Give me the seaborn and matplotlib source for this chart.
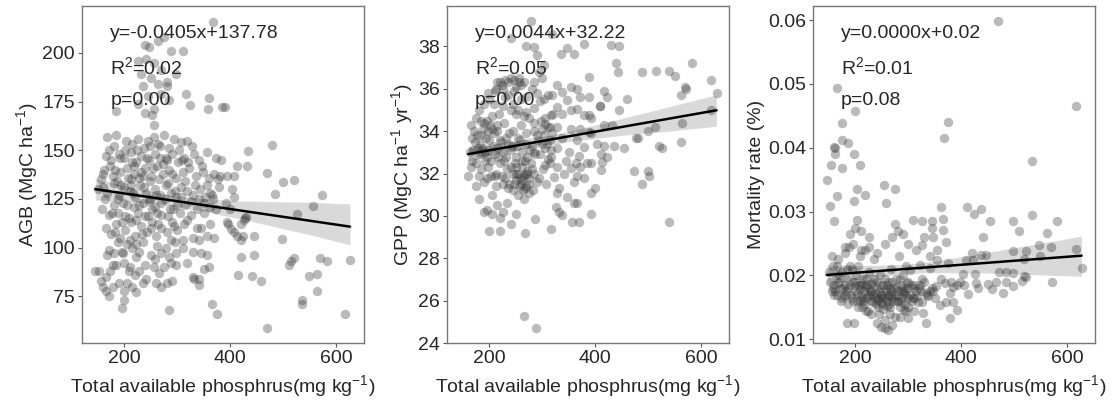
import numpy as np
import pandas as pd
import matplotlib
matplotlib.use("Agg")
import matplotlib.pyplot as plt
import seaborn as sns

# panel 1: AGB vs total available phosphorus
agb_pts = [
    (367, 216), (238, 204), (247, 203), (263, 206), (275, 208), (288, 201), (310, 201),
    (225, 196), (241, 197), (256, 195), (269, 191), (297, 189), (231, 189), (250, 187),
    (281, 185), (235, 183), (263, 184), (281, 183), (244, 178), (269, 179), (285, 176),
    (225, 174), (256, 171), (316, 179), (324, 173), (360, 177), (357, 171), (385, 172),
    (389, 172), (184, 170), (238, 169), (253, 168), (256, 163),
    (167, 157), (184, 158), (203, 155), (225, 156), (244, 155), (256, 157), (275, 158),
    (294, 156), (307, 154), (319, 155), (180, 152), (215, 153), (237, 151), (264, 153),
    (284, 151), (327, 152),
    (165, 147), (175, 145), (190, 148), (200, 146), (212, 149), (222, 144), (232, 147),
    (247, 145), (258, 148), (268, 146), (280, 145), (290, 148), (302, 144), (313, 146),
    (332, 148), (340, 145), (355, 149), (372, 146),
    (162, 140), (172, 142), (178, 137), (192, 139), (205, 141), (218, 138), (228, 136),
    (238, 141), (250, 137), (262, 142), (272, 138), (285, 140), (298, 136), (310, 139),
    (322, 141), (335, 137), (348, 139), (360, 136), (370, 138), (380, 137), (382, 145),
    (150, 130), (160, 131), (168, 128), (180, 133), (190, 127), (200, 131), (210, 129),
    (220, 126), (230, 132), (240, 128), (248, 125), (258, 130), (268, 127), (278, 132),
    (288, 128), (298, 126), (306, 131), (318, 129), (330, 127), (342, 130), (352, 126),
    (362, 128), (368, 125), (378, 131),
    (158, 120), (170, 117), (180, 122), (188, 118), (198, 123), (208, 115), (218, 121),
    (225, 118), (235, 123), (245, 116), (252, 120), (262, 118), (270, 123), (282, 116),
    (292, 120), (305, 118), (315, 122), (325, 117), (338, 120), (350, 123), (362, 121),
    (165, 110), (175, 107), (185, 112), (192, 105), (202, 109), (212, 113), (220, 106),
    (232, 111), (242, 108), (252, 113), (260, 106), (270, 110), (280, 108), (290, 113),
    (300, 109), (312, 112), (330, 105), (345, 110), (355, 106), (370, 105),
    (170, 99), (180, 97), (195, 98), (205, 102), (215, 100), (222, 95), (235, 103),
    (250, 96), (262, 101), (270, 97), (285, 95), (295, 103), (310, 100), (340, 104),
    (355, 96),
    (145, 88), (152, 88), (165, 85), (172, 88), (185, 91), (200, 92), (210, 90),
    (220, 86), (228, 88), (240, 84), (255, 90), (265, 87), (275, 90), (288, 92),
    (298, 91), (330, 85), (340, 84), (350, 89), (360, 90),
    (155, 83), (160, 80), (165, 78), (170, 75), (178, 80), (190, 82), (200, 78),
    (205, 82), (215, 80), (222, 77), (235, 82), (260, 82), (270, 80), (280, 82),
    (290, 83), (332, 84), (340, 81),
    (195, 69), (200, 73), (285, 68), (365, 71), (375, 66),
    (155, 135), (163, 125), (171, 150), (176, 118), (183, 140), (187, 103), (193, 132),
    (196, 113), (201, 150), (204, 122), (207, 136), (211, 104), (214, 144), (217, 128),
    (221, 114), (224, 150), (227, 122), (231, 139), (234, 107), (237, 131), (239, 116),
    (243, 146), (246, 124), (249, 134), (251, 110), (254, 141), (257, 121), (259, 127),
    (263, 112), (266, 135), (269, 117), (273, 143), (276, 125), (279, 100), (283, 133),
    (286, 120), (289, 138), (293, 111), (296, 129), (299, 122), (303, 150), (307, 126),
    (311, 104), (314, 134), (318, 114), (321, 144), (326, 124), (329, 98), (333, 132),
    (337, 110), (341, 125), (346, 142), (351, 118), (356, 132), (361, 112), (366, 127),
    (372, 120), (377, 135), (168, 96), (178, 91), (188, 125), (198, 97), (208, 88),
    (218, 142), (228, 98), (238, 91), (248, 152), (258, 94), (268, 152), (278, 146),
    (288, 104), (298, 97), (308, 145), (318, 92), (345, 97), (182, 108), (192, 146),
    (202, 116), (212, 132), (222, 102),
    (433, 149.5), (479, 152.9), (413, 141.8), (432, 141.8), (394, 137), (407, 136.7),
    (470, 138.4), (485, 127.7), (500, 133.7), (520, 134.5), (573, 126.9), (557, 121.4),
    (525, 117.5), (429, 115.5), (426, 114), (394, 113), (401, 109.5), (407, 107.8),
    (423, 106), (445, 106), (498, 104.4), (414, 86), (441, 85.4), (457, 83), (420, 95),
    (445, 96.3), (511, 91), (514, 93.3), (520, 94.6), (569, 94.7), (582, 93.4),
    (626, 93.6), (548, 85.7), (564, 86.6), (564, 77.7), (535, 73.3), (535, 71),
    (617, 66), (470, 58.8), (406, 126), (404, 130), (392, 123), (400, 120), (396, 112),
    (413, 106), (421, 104), (428, 115), (421, 112),
    (160, 138), (186, 134), (213, 135), (236, 137),
]

# panel 2: GPP
gpp_pts = [
    (278, 39.2), (240, 38.4), (270, 38.0), (284, 37.95), (319, 38.6), (336, 37.65),
    (347, 37.9), (360, 37.65), (379, 38.1), (429, 38.05), (445, 38.0), (290, 37.6),
    (303, 37.1), (294, 36.8), (439, 37.2), (442, 36.8), (388, 36.55), (489, 36.8),
    (514, 36.85), (540, 36.85), (551, 36.6), (582, 37.2), (618, 36.4), (629, 35.8),
    (569, 36.1), (571, 36.0), (562, 35.7), (513, 34.2), (520, 33.3), (526, 33.2),
    (499, 34.0), (477, 33.7), (480, 33.7), (474, 32.1), (499, 32.1), (501, 31.9),
    (489, 31.5), (540, 29.7), (562, 33.5), (618, 35.0), (564, 34.4),
    (417, 35.9), (423, 35.6), (408, 35.2), (409, 35.2), (445, 35.0), (459, 35.5),
    (388, 34.75), (391, 34.6), (431, 34.3), (417, 34.3), (391, 33.9), (404, 33.4),
    (417, 33.3), (435, 33.3), (455, 33.2), (410, 32.9), (423, 32.8), (413, 32.55),
    (410, 32.15), (391, 32.5), (391, 31.1), (400, 31.3), (391, 30.1),
    (328, 36.2), (354, 36.1), (366, 36.0), (338, 35.85), (319, 35.7), (303, 35.5),
    (347, 35.45), (372, 35.6), (388, 35.6), (328, 35.15), (354, 35.0), (366, 35.05),
    (379, 34.75), (338, 34.8), (316, 34.75), (306, 34.35), (328, 34.2), (354, 34.1),
    (372, 34.1), (388, 33.95), (319, 33.9), (338, 33.7), (366, 33.6), (379, 33.25),
    (309, 33.4), (328, 33.2), (351, 33.0), (369, 32.85), (316, 32.8), (344, 32.6),
    (363, 32.5), (385, 32.5), (306, 32.4), (328, 32.3), (354, 32.25), (372, 32.3),
    (366, 31.9), (322, 31.85), (341, 32.0), (360, 31.6), (379, 31.8), (331, 31.3),
    (328, 31.1), (347, 30.9), (360, 30.6), (366, 30.6), (325, 30.4), (331, 30.2),
    (338, 30.05), (357, 29.7), (369, 29.7), (316, 29.4), (287, 29.85), (268, 29.2),
    (265, 25.3), (288, 24.7),
    (165, 34.3), (170, 33.1), (175, 32.5), (180, 31.9), (172, 33.5), (185, 33.8),
    (190, 34.4), (195, 32.8), (200, 33.6), (205, 34.1), (210, 32.9), (215, 33.2),
    (185, 32.2), (190, 31.6), (178, 33.2), (183, 33.4), (188, 34.1), (198, 34.0),
    (203, 31.9), (208, 33.9), (213, 31.4), (220, 32.5), (225, 33.0), (230, 31.8),
    (235, 33.4), (240, 32.3), (245, 34.0), (250, 31.7), (255, 32.0), (260, 31.5),
    (262, 32.3), (265, 31.9), (268, 32.6), (270, 31.4), (272, 32.1), (275, 31.8),
    (278, 32.5), (280, 33.3), (285, 32.0), (290, 31.6), (295, 32.9), (300, 33.4),
    (245, 31.2), (255, 31.0), (265, 30.8), (275, 31.1), (283, 31.2), (250, 32.8),
    (258, 33.6), (238, 33.9), (228, 34.4), (218, 34.8), (208, 35.3), (198, 35.8),
    (210, 35.9), (220, 36.3), (230, 36.4), (240, 36.5), (250, 36.1), (260, 36.2),
    (235, 35.7), (245, 35.3), (255, 35.0), (265, 34.7), (275, 34.6), (285, 35.1),
    (295, 35.4), (270, 35.6), (280, 36.0), (290, 35.8), (300, 36.5), (305, 34.6),
    (310, 35.7), (315, 34.2), (225, 35.2), (215, 34.3), (205, 34.7), (195, 34.5),
    (260, 34.3), (270, 33.9), (285, 34.4), (290, 33.8), (300, 34.1), (305, 33.2),
    (310, 32.7), (315, 33.6), (195, 31.8), (205, 31.0), (215, 30.5), (225, 30.2),
    (233, 30.6), (205, 30.1), (195, 30.3), (220, 29.9), (240, 29.6), (200, 29.3),
    (220, 29.3), (250, 30.1), (160, 31.9), (165, 32.3), (168, 33.7), (175, 34.6),
    (180, 30.8), (190, 30.2), (185, 33.0), (192, 32.6), (197, 33.1), (225, 31.5),
    (235, 31.3), (248, 32.5), (252, 33.3), (262, 33.0), (232, 32.8), (242, 33.3),
    (212, 32.0), (222, 33.5), (270, 33.4), (215, 36.3), (224, 36.2), (246, 36.4),
    (256, 36.3), (265, 36.3), (284, 36.3),
    (163, 33.0), (167, 32.6), (171, 34.0), (174, 31.4), (177, 33.8), (181, 32.9),
    (184, 34.5), (187, 33.2), (191, 33.0), (194, 33.7), (197, 32.3), (201, 34.3),
    (204, 32.6), (207, 33.3), (211, 31.9), (214, 34.0), (217, 32.8), (221, 33.6),
    (224, 31.9), (227, 32.6), (231, 33.7), (234, 32.2), (237, 31.5), (241, 33.1),
    (244, 32.0), (247, 31.5), (251, 32.3), (254, 33.7), (257, 31.4), (261, 32.6),
    (264, 31.2), (267, 32.0), (271, 32.8), (274, 31.5), (277, 33.1), (281, 32.2),
    (284, 34.0), (287, 32.9), (291, 33.6), (294, 31.8), (297, 34.5), (301, 32.2),
    (304, 33.8), (307, 31.5), (311, 34.2), (314, 32.5), (317, 33.1), (321, 34.8),
    (250, 34.8), (240, 35.0), (230, 35.6), (260, 35.5), (270, 34.9), (190, 35.3),
    (200, 35.5), (180, 35.0), (212, 36.0), (226, 36.0), (236, 36.3), (246, 35.9),
    (256, 36.5), (285, 33.0), (262, 31.7), (268, 31.3), (258, 31.8), (250, 32.0),
    (272, 32.0),
]

# panel 3: mortality rate
mort_pts = [
    (469, 0.0598), (166, 0.0493), (200, 0.0458), (616, 0.0465), (175, 0.0439),
    (374, 0.0441), (367, 0.0415), (159, 0.0402), (162, 0.0399), (161, 0.0390),
    (175, 0.0412), (186, 0.0408), (197, 0.0391), (154, 0.0373), (175, 0.0368),
    (209, 0.0373), (146, 0.0350), (153, 0.0309), (166, 0.0324), (203, 0.0336),
    (197, 0.0317), (219, 0.0326), (254, 0.0341), (257, 0.0313), (275, 0.0336),
    (159, 0.0286), (203, 0.0287), (200, 0.0274), (534, 0.0379), (534, 0.0295),
    (361, 0.0308), (365, 0.0289), (411, 0.0308), (437, 0.0304), (424, 0.0296),
    (454, 0.0286), (497, 0.0286), (581, 0.0286), (509, 0.0270), (561, 0.0266),
    (441, 0.0260), (569, 0.0244), (547, 0.0247), (616, 0.0242), (522, 0.0239),
    (497, 0.0239), (421, 0.0235), (437, 0.0232),
    (519, 0.0225), (549, 0.0230), (472, 0.0206), (484, 0.0206), (497, 0.0204),
    (519, 0.0199), (522, 0.0198), (627, 0.0212), (571, 0.0190), (484, 0.0189),
    (497, 0.0183), (478, 0.0172), (450, 0.0187), (428, 0.0188), (412, 0.0171),
    (425, 0.0203), (403, 0.0202), (409, 0.0224), (422, 0.0224), (447, 0.0232),
    (391, 0.0185), (384, 0.0182), (397, 0.0190), (391, 0.0146), (378, 0.0134),
    (384, 0.0159), (334, 0.0126),
    (405, 0.0185), (432, 0.0180), (466, 0.0190), (458, 0.0178), (515, 0.0192),
    (309, 0.0287), (325, 0.0286), (344, 0.0285), (366, 0.0271), (325, 0.0248),
    (347, 0.0260), (355, 0.0240), (372, 0.0253), (341, 0.0230), (355, 0.0224),
    (375, 0.0219), (322, 0.0216), (303, 0.0209), (341, 0.0211), (362, 0.0194),
    (353, 0.0183), (369, 0.0188), (322, 0.0185), (334, 0.0172), (347, 0.0175),
    (325, 0.0159), (309, 0.0164), (359, 0.0154), (372, 0.0159), (328, 0.0141),
    (300, 0.0133), (291, 0.0146), (309, 0.0180), (378, 0.0172), (381, 0.0190),
    (150, 0.0205), (153, 0.0190), (156, 0.0175), (158, 0.0215), (160, 0.0185),
    (163, 0.0200), (165, 0.0170), (168, 0.0225), (170, 0.0190), (172, 0.0160),
    (175, 0.0205), (177, 0.0180), (180, 0.0235), (182, 0.0175), (184, 0.0195),
    (186, 0.0155), (188, 0.0245), (190, 0.0185), (192, 0.0170), (194, 0.0210),
    (196, 0.0190), (198, 0.0125), (200, 0.0175),
    (202, 0.0200), (204, 0.0160), (206, 0.0185), (208, 0.0230), (210, 0.0170),
    (212, 0.0150), (214, 0.0195), (216, 0.0175), (218, 0.0240), (220, 0.0165),
    (222, 0.0185), (224, 0.0145), (226, 0.0205), (228, 0.0175), (230, 0.0160),
    (232, 0.0190), (234, 0.0170), (236, 0.0225), (238, 0.0155), (240, 0.0180),
    (242, 0.0165), (244, 0.0140), (246, 0.0200), (248, 0.0170), (250, 0.0155),
    (252, 0.0185), (254, 0.0165), (256, 0.0130), (258, 0.0175), (260, 0.0160),
    (262, 0.0190), (264, 0.0170), (266, 0.0150), (268, 0.0210), (270, 0.0165),
    (272, 0.0180), (274, 0.0135), (276, 0.0195), (278, 0.0160), (280, 0.0175),
    (282, 0.0230), (284, 0.0150), (286, 0.0185), (288, 0.0165), (290, 0.0200),
    (292, 0.0175), (294, 0.0155), (296, 0.0215), (298, 0.0180), (300, 0.0165),
    (155, 0.0230), (165, 0.0215), (175, 0.0165), (185, 0.0210), (195, 0.0160),
    (205, 0.0215), (215, 0.0160), (225, 0.0180), (235, 0.0195), (245, 0.0175),
    (255, 0.0195), (265, 0.0180), (275, 0.0170), (285, 0.0195), (295, 0.0170),
    (305, 0.0185), (315, 0.0175), (325, 0.0195), (335, 0.0170), (345, 0.0180),
    (160, 0.0170), (170, 0.0200), (180, 0.0185), (190, 0.0215), (200, 0.0190),
    (210, 0.0185), (220, 0.0195), (230, 0.0175), (240, 0.0190), (250, 0.0170),
    (260, 0.0185), (270, 0.0190), (280, 0.0160), (290, 0.0180), (300, 0.0190),
    (310, 0.0165), (320, 0.0180), (330, 0.0190), (340, 0.0175), (350, 0.0165),
    (180, 0.0245), (195, 0.0250), (210, 0.0240), (225, 0.0245), (240, 0.0235),
    (255, 0.0250), (270, 0.0260), (280, 0.0270), (290, 0.0265), (300, 0.0250),
    (315, 0.0240), (330, 0.0260), (345, 0.0275), (275, 0.0280), (210, 0.0270),
    (225, 0.0260), (190, 0.0265),
    (185, 0.0125), (230, 0.0140), (240, 0.0125), (248, 0.0120), (255, 0.0118),
    (262, 0.0115), (270, 0.0122), (285, 0.0135), (295, 0.0145), (220, 0.0145),
    (205, 0.0150), (265, 0.0140), (300, 0.0150), (310, 0.0145),
    (182, 0.0170), (187, 0.0180), (193, 0.0165), (199, 0.0185), (203, 0.0172),
    (209, 0.0178), (213, 0.0165), (219, 0.0182), (223, 0.0168), (229, 0.0186),
    (233, 0.0158), (239, 0.0172), (243, 0.0162), (247, 0.0185), (251, 0.0165),
    (257, 0.0178), (261, 0.0168), (263, 0.0155), (267, 0.0175), (271, 0.0160),
    (277, 0.0182), (281, 0.0168), (287, 0.0158), (291, 0.0172), (297, 0.0188),
    (303, 0.0170), (307, 0.0160), (313, 0.0185), (317, 0.0168), (323, 0.0175),
    (173, 0.0178), (167, 0.0188), (157, 0.0180), (213, 0.0188), (243, 0.0150),
    (253, 0.0148), (259, 0.0152), (237, 0.0165), (227, 0.0170), (217, 0.0155),
    (162, 0.0176), (178, 0.0168), (208, 0.0162), (248, 0.0158), (268, 0.0168),
    (288, 0.0175), (318, 0.0158), (338, 0.0168),
]

ylabels = [r"AGB (MgC ha$^{-1}$)", r"GPP (MgC ha$^{-1}$ yr$^{-1}$)", "Mortality rate (%)"]
eq_texts = ["y=-0.0405x+137.78", "y=0.0044x+32.22", "y=0.0000x+0.02"]
r2_texts = ["0.02", "0.05", "0.01"]
p_texts = ["0.00", "0.00", "0.08"]
ylims = [(51, 224), (24, 39.9), (0.0094, 0.0622)]
yticks = [np.arange(75, 201, 25), np.arange(24, 39, 2), np.arange(0.01, 0.061, 0.01)]
xlabel = r"Total available phosphrus(mg kg$^{-1}$)"

sns.set_style("ticks")
plt.rcParams['font.family'] = ['Liberation Sans', 'DejaVu Sans']
plt.rcParams['mathtext.fontset'] = 'custom'
plt.rcParams['mathtext.rm'] = 'Liberation Sans'
plt.rcParams['mathtext.it'] = 'Liberation Sans'

fig = plt.figure(figsize=(11.16, 4.07), dpi=100)
lefts = [0.0735, 0.4005, 0.7285]
panels = [agb_pts, gpp_pts, mort_pts]

for i, pts in enumerate(panels):
    ax = fig.add_axes([lefts[i], 0.157, 0.2525, 0.828])
    df = pd.DataFrame(pts, columns=["P", "y"])
    sns.regplot(data=df, x="P", y="y", ax=ax, color="black",
                scatter_kws=dict(s=46, alpha=0.35, color="#3a3a3a", linewidths=0),
                line_kws=dict(lw=1.8, color="black"))
    ax.set_xlim(120, 652)
    ax.set_ylim(*ylims[i])
    ax.set_xticks([200, 400, 600])
    ax.set_yticks(yticks[i])
    if i == 2:
        ax.set_yticklabels([f"{v:.2f}" for v in yticks[i]])
    ax.set_xlabel(xlabel, fontsize=14)
    ax.set_ylabel(ylabels[i], fontsize=14, labelpad=2)
    ax.tick_params(labelsize=14, length=3, width=0.8, color="#555555", pad=2)
    for sp in ax.spines.values():
        sp.set_color("#777777")
        sp.set_linewidth(1.0)
    ax.text(0.10, 0.92, eq_texts[i], transform=ax.transAxes, fontsize=14, va="center")
    ax.text(0.10, 0.82, "R$^2$=" + r2_texts[i], transform=ax.transAxes, fontsize=14, va="center")
    ax.text(0.10, 0.72, "p=" + p_texts[i], transform=ax.transAxes, fontsize=14, va="center")

fig.savefig("out.png", dpi=100)
